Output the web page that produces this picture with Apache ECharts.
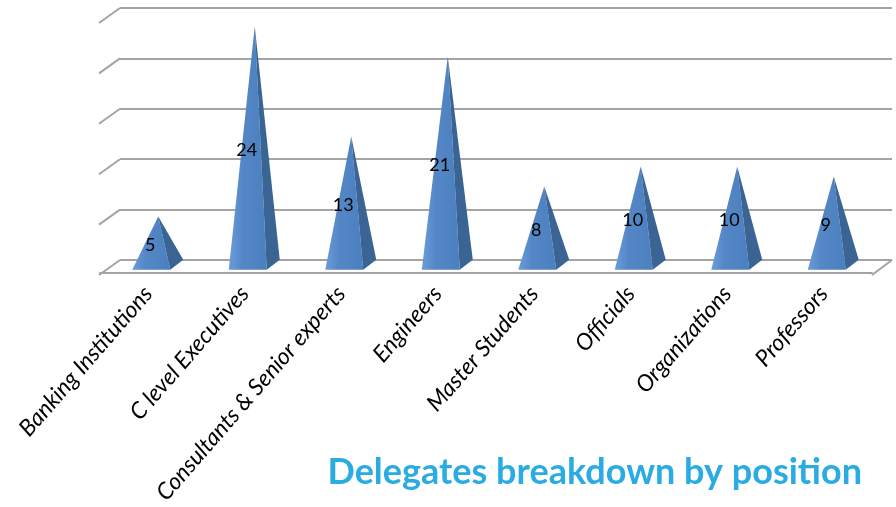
<!DOCTYPE html>
<html>
<head>
<meta charset="utf-8">
<script src="https://cdn.jsdelivr.net/npm/echarts@6/dist/echarts.min.js"></script>
<style>
html, body { margin: 0; padding: 0; background: #fff; }
#main { width: 896px; height: 507px; }
</style>
</head>
<body>
<div id="main"></div>
<script>
// 数据
var categories = ['Banking Institutions', 'C level Executives', 'Consultants & Senior experts', 'Engineers',
    'Master Students', 'Officials', 'Organizations', 'Professors'];
var delegates = [5, 24, 13, 21, 8, 10, 10, 9];
var wallTicks = [0, 5, 10, 15, 20, 25];

var myChart = echarts.init(document.getElementById('main'));

// 后墙左侧的斜线 + 地板右侧斜线
function renderWall(params, api) {
    var cs = params.coordSys;
    var val = api.value(1);
    var y = api.coord([0, val])[1];
    var children = [{
        type: 'line',
        shape: { x1: cs.x - 21, y1: y + 15, x2: cs.x, y2: y },
        style: { stroke: '#a4a4a4', lineWidth: 2 }
    }];
    if (val === 0) {
        children.push({
            type: 'line',
            shape: { x1: cs.x + cs.width, y1: y, x2: cs.x + cs.width - 20, y2: y + 15 },
            style: { stroke: '#a4a4a4', lineWidth: 2 }
        });
    }
    return { type: 'group', children: children };
}

// 金字塔
function renderPyramid(params, api) {
    var v = api.value(1);
    var base = api.coord([api.value(0), 0]);
    var top = api.coord([api.value(0), v]);
    var cx = base[0];
    var yb = base[1] - 3;
    var tip = [cx + 10, top[1] - 6];
    return {
        type: 'group',
        children: [
            {
                type: 'polygon',
                shape: { points: [[cx - 16, yb], [cx + 22, yb], tip] },
                style: {
                    fill: new echarts.graphic.LinearGradient(0, 0, 1, 0, [
                        { offset: 0, color: '#6b9ddb' },
                        { offset: 0.35, color: '#5587c6' },
                        { offset: 1, color: '#4b7fbf' }
                    ])
                }
            },
            {
                type: 'polygon',
                shape: { points: [[cx + 22, yb], [cx + 35, yb - 10], tip] },
                style: { fill: '#3a6494' }
            },
            {
                type: 'text',
                x: tip[0] - 8,
                y: (tip[1] + yb) / 2 + 2,
                style: {
                    text: String(v),
                    fill: '#000',
                    font: '18px Lato',
                    align: 'center',
                    verticalAlign: 'middle'
                }
            }
        ]
    };
}

var option = {
    animation: false,
    title: {
        text: 'Delegates breakdown by position',
        right: 29,
        top: 449,
        textStyle: {
            color: '#2aace2',
            fontFamily: 'Lato',
            fontWeight: 'bold',
            fontSize: 36
        }
    },
    grid: [
        { left: 120, right: 4, top: 8, bottom: 247 },   // 后墙
        { left: 100, right: 24, top: 22.5, bottom: 232 } // 前沿
    ],
    xAxis: [
        {
            gridIndex: 0,
            type: 'category',
            data: categories,
            show: false
        },
        {
            gridIndex: 1,
            type: 'category',
            data: categories,
            axisLine: { lineStyle: { color: '#a4a4a4', width: 2 } },
            axisTick: { length: 7, lineStyle: { color: '#a4a4a4', width: 2 } },
            axisLabel: {
                interval: 0,
                rotate: 49,
                margin: 17,
                color: '#000',
                fontFamily: 'Lato',
                fontStyle: 'italic',
                fontSize: 23
            }
        }
    ],
    yAxis: [
        {
            gridIndex: 0,
            type: 'value',
            min: 0,
            max: 25,
            interval: 5,
            axisLine: { show: false },
            axisTick: { show: false },
            axisLabel: { show: false },
            splitLine: { lineStyle: { color: '#a4a4a4', width: 2 } }
        },
        {
            gridIndex: 1,
            type: 'value',
            min: 0,
            max: 25,
            show: false,
            splitLine: { show: false }
        }
    ],
    series: [
        {
            type: 'custom',
            xAxisIndex: 0,
            yAxisIndex: 0,
            renderItem: renderWall,
            data: wallTicks.map(function (t) { return [0, t]; }),
            silent: true
        },
        {
            type: 'custom',
            xAxisIndex: 1,
            yAxisIndex: 1,
            renderItem: renderPyramid,
            data: delegates.map(function (v, i) { return [i, v]; })
        }
    ]
};

myChart.setOption(option);
window.onresize = myChart.resize;
</script>
</body>
</html>
